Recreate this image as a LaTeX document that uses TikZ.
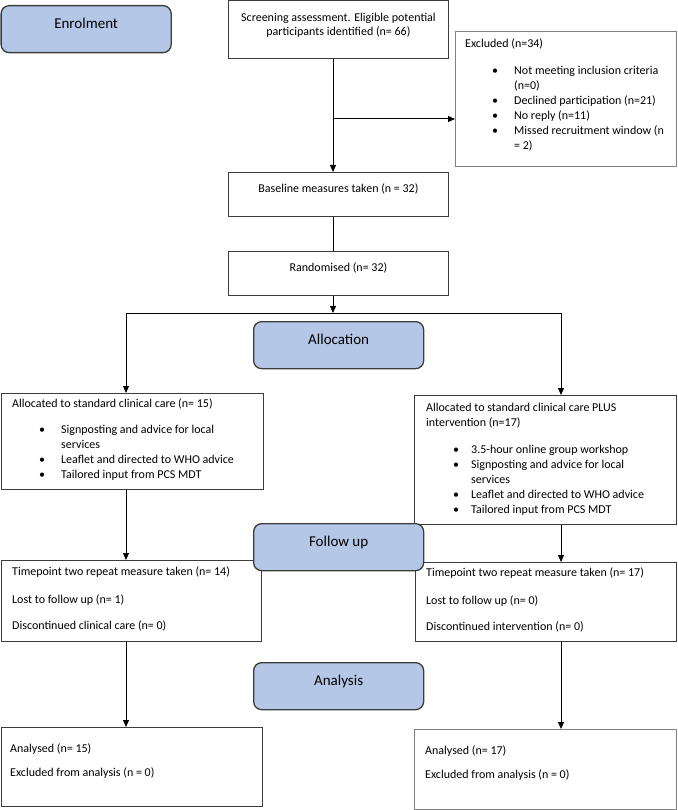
\documentclass[tikz,border=0pt]{standalone}
\usepackage{fontspec}
\setmainfont{Carlito}
\usetikzlibrary{arrows.meta,positioning,calc}
\definecolor{stageblue}{RGB}{180,199,231}
\definecolor{edgegray}{RGB}{60,60,60}
\tikzset{
  stage/.style={draw=edgegray, line width=1.3pt, rounded corners=8pt, fill=stageblue, minimum width=170pt, minimum height=47pt, anchor=north west, inner sep=0pt, font=\fontsize{15}{17}\selectfont, text height=10pt, text depth=12pt},
  panel/.style={draw=edgegray, line width=0.9pt, anchor=north west, inner sep=0pt},
  txt/.style={anchor=north west, inner sep=0pt, align=left, font=\fontsize{12}{15}\selectfont, execute at begin node=\strut},
  ctxt/.style={anchor=north, inner sep=0pt, align=center, font=\fontsize{12}{14}\selectfont, execute at begin node=\strut},
  line/.style={-{Triangle[length=7pt,width=6pt]}, line width=1pt},
  plain/.style={line width=1pt}
}
\newcommand{\bitem}[2][22pt]{\hspace*{27pt}\makebox[#1][l]{\textbullet}#2}
\newcommand{\bcont}[2][22pt]{\hspace*{27pt}\hspace*{#1}#2}

\begin{document}
\begin{tikzpicture}[x=1pt, y=-1pt]
  \useasboundingbox (0,0) rectangle (677,810);
  % enrolment
  \node[panel, minimum width=220pt, minimum height=58pt] (screen) at (228,0.5) {};
  \node[ctxt] (screentxt) at ($(screen.north)+(0,12)$) {Screening assessment. Eligible potential\\participants identified (n= 66)};
  \node[panel, draw=gray, minimum width=221pt, minimum height=135pt] (excl) at (455,31) {};
  \node[txt] (excltxt) at ($(excl.north west)+(10,8)$) {Excluded (n=34)\\[12pt]
    \bitem{Not meeting inclusion criteria}\\
    \bcont{(n=0)}\\
    \bitem{Declined participation (n=21)}\\
    \bitem{No reply (n=11)}\\
    \bitem{Missed recruitment window (n}\\
    \bcont{= 2)}};
  \node[panel, minimum width=220pt, minimum height=44pt] (base) at (228,172) {};
  \node[ctxt] (basetxt) at ($(base.north)+(0,11)$) {Baseline measures taken (n = 32)};
  \node[panel, minimum width=220pt, minimum height=44pt] (rand) at (228,251) {};
  \node[ctxt] (randtxt) at ($(rand.north)+(0,10.5)$) {Randomised (n= 32)};
  % allocation
  \node[panel, minimum width=262.5pt, minimum height=96pt] (alocL) at (0.5,393) {};
  \node[txt] (alocLtxt) at ($(alocL.north west)+(11.5,5.5)$) {Allocated to standard clinical care (n= 15)\\[11pt]
    \bitem{Signposting and advice for local}\\
    \bcont{services}\\
    \bitem{Leaflet and directed to WHO advice}\\
    \bitem{Tailored input from PCS MDT}};
  \node[panel, minimum width=262pt, minimum height=129pt] (alocR) at (414,395) {};
  \node[txt] (alocRtxt) at ($(alocR.north west)+(12,7.5)$) {Allocated to standard clinical care PLUS\\
    intervention (n=17)\\[12pt]
    \bitem[18pt]{3.5-hour online group workshop}\\
    \bitem[18pt]{Signposting and advice for local}\\
    \bcont[18pt]{services}\\
    \bitem[18pt]{Leaflet and directed to WHO advice}\\
    \bitem[18pt]{Tailored input from PCS MDT}};
  % follow up
  \node[panel, minimum width=260.5pt, minimum height=81pt] (fupL) at (0.5,560) {};
  \node[txt] (fupLtxt) at ($(fupL.north west)+(11.5,6.5)$) {Timepoint two repeat measure taken (n= 14)\\[13pt]
    Lost to follow up (n= 1)\\[11pt]
    Discontinued clinical care (n= 0)};
  \node[panel, minimum width=261pt, minimum height=79pt] (fupR) at (415,562) {};
  \node[txt] (fupRtxt) at ($(fupR.north west)+(11,5.5)$) {Timepoint two repeat measure taken (n= 17)\\[13pt]
    Lost to follow up (n= 0)\\[11pt]
    Discontinued intervention (n= 0)};
  % analysis
  \node[panel, minimum width=261.5pt, minimum height=79pt] (anaL) at (0.5,727) {};
  \node[txt] (anaLtxt) at ($(anaL.north west)+(9.5,16.5)$) {Analysed (n= 15)\\[9pt]
    Excluded from analysis (n = 0)};
  \node[panel, draw=gray, minimum width=262pt, minimum height=80pt] (anaR) at (414,729) {};
  \node[txt] (anaRtxt) at ($(anaR.north west)+(11,16.5)$) {Analysed (n= 17)\\[9pt]
    Excluded from analysis (n = 0)};
  % stages
  \node[stage] (enrol) at (0.5,5) {Enrolment};
  \node[stage] (alloc) at (253,321) {Allocation};
  \node[stage] (follow) at (253,523) {Follow up};
  \node[stage] (analysis) at (253,662) {Analysis};
  % connectors
  \coordinate (sp) at (333,119);
  \coordinate (fork) at (333,313);
  \coordinate (fl) at (126,313);
  \coordinate (fr) at (561,313);
  \draw[line] (screen.south -| sp) -- (base.north -| sp);
  \draw[line] (sp) -- (excl.west |- sp);
  \draw[plain] (base.south -| sp) -- (rand.north -| sp);
  \draw[line] (rand.south -| sp) -- (fork);
  \draw[plain] (fl) -- (fr);
  \draw[line] (fl) -- (alocL.north -| fl);
  \draw[line] (fr) -- (alocR.north -| fr);
  \draw[line] (alocL.south -| fl) -- (fupL.north -| fl);
  \draw[line] (alocR.south -| fr) -- (fupR.north -| fr);
  \draw[line] (fupL.south -| fl) -- (anaL.north -| fl);
  \draw[line] (fupR.south -| fr) -- (anaR.north -| fr);
\end{tikzpicture}
\end{document}
